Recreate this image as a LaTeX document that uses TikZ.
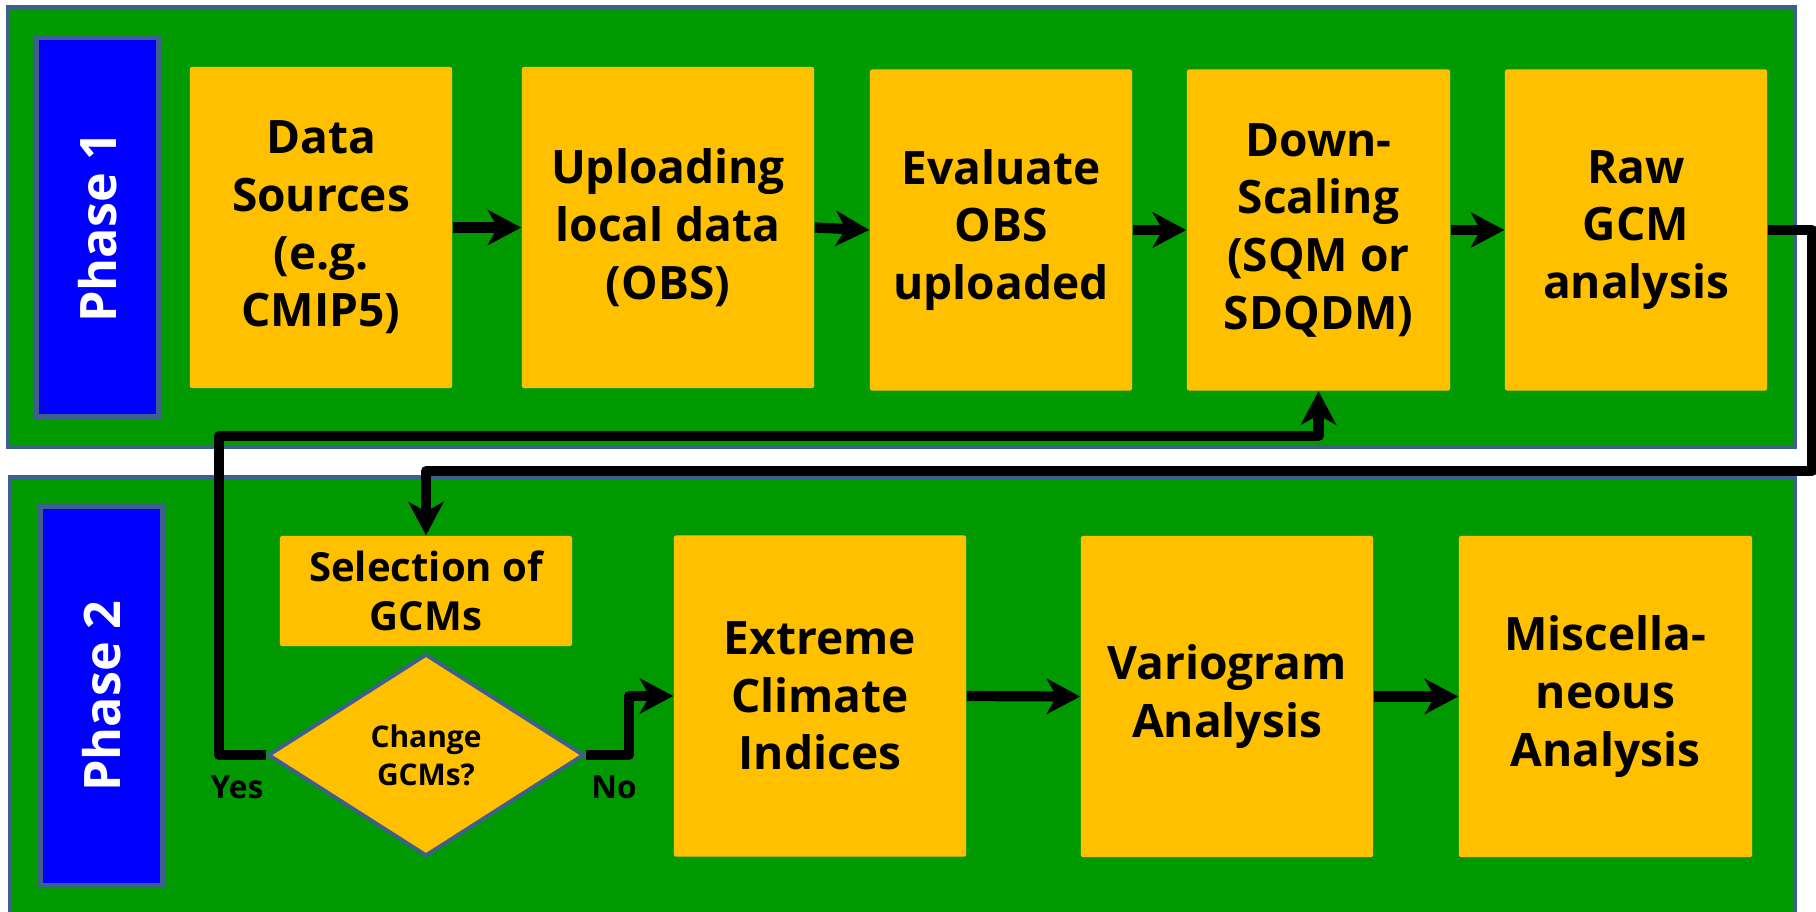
\documentclass[tikz,border=0pt]{standalone}
\usepackage{fontspec}
\setmainfont{Open Sans}
\usetikzlibrary{arrows.meta,shapes.geometric}
\definecolor{panelgreen}{RGB}{0,153,0}
\definecolor{edgeblue}{RGB}{60,95,140}
\definecolor{phaseblue}{RGB}{0,0,255}
\definecolor{boxgold}{RGB}{255,192,0}
\begin{document}
\begin{tikzpicture}[x=0.01cm,y=-0.01cm,
    panel/.style={fill=panelgreen,draw=edgeblue,line width=1.1pt},
    phasebox/.style={fill=phaseblue,draw=edgeblue,line width=1.3pt,rotate=90,
        minimum width=3.79cm,minimum height=1.22cm,inner sep=0pt,
        text=white,font=\bfseries\fontsize{14.3}{16}\selectfont},
    box/.style={fill=boxgold,rounded corners=0.6pt,inner sep=0pt,align=center,
        minimum height=3.21cm,font=\bfseries\fontsize{13.1}{16.4}\selectfont},
    flow/.style={line width=2.9pt,line join=round,-{Stealth[length=9.5pt,width=10pt,inset=2.8pt]}},
    tag/.style={font=\bfseries\fontsize{9}{11}\selectfont}
  ]
    \useasboundingbox (0,0) rectangle (1816,911);

    %%phase 1
    \draw[panel] (8,7) rectangle (1795,447);
    \node[phasebox] (phaseone) at (97.5,227){Phase 1};
    \node[box,minimum width=2.62cm] (data) at (321,227.5){Data\\Sources\\(e.g.\\CMIP5)};
    \node[box,minimum width=2.92cm] (upload) at (668,227.5){Uploading\\local data\\(OBS)};
    \node[box,minimum width=2.62cm] (evaluate) at (1001,230){Evaluate\\OBS\\uploaded};
    \node[box,minimum width=2.63cm] (downscale) at (1318.5,230){Down-\\Scaling\\(SQM or\\SDQDM)};
    \node[box,minimum width=2.62cm] (rawgcm) at (1636,230){Raw\\GCM\\analysis};

    %%phase 2
    \draw[panel] (10,477) rectangle (1795,920);
    \node[phasebox] (phasetwo) at (101.5,696){Phase 2};
    \node[box,minimum width=2.92cm,minimum height=1.10cm,
        font=\bfseries\fontsize{11.4}{13.8}\selectfont] (select) at (426,591){Selection of\\GCMs};
    \node[diamond,aspect=1.56,fill=boxgold,draw=edgeblue,line width=1.1pt,
        minimum width=3.16cm,minimum height=2.02cm,inner sep=0pt,align=center,
        font=\bfseries\fontsize{8.5}{10.9}\selectfont] (change) at (426,755){Change\\GCMs?};
    \node[box,minimum width=2.92cm] (extreme) at (820,696){Extreme\\Climate\\Indices};
    \node[box,minimum width=2.92cm] (variogram) at (1227,696.5){Variogram\\Analysis};
    \node[box,minimum width=2.93cm] (misc) at (1605.5,696.5){Miscella-\\neous\\Analysis};

    %%labels
    \node[tag] (yes) at (237,787){Yes};
    \node[tag] (no) at (614,787){No};

    %%bends
    \coordinate (rbend) at (1812,471);
    \coordinate (ybend) at (219,436);
    \coordinate (nbend) at (629,696);

    %%arrows
    \draw[flow] (data.east) -- (upload.west);
    \draw[flow] (upload.east) -- (evaluate.west);
    \draw[flow] (evaluate.east) -- (downscale.west);
    \draw[flow] (downscale.east) -- (rawgcm.west);
    \draw[flow] (rawgcm.east) -| (rbend) -| (select.north);
    \draw[flow] (change.west) -| (ybend) -| (downscale.south);
    \draw[flow] (change.east) -| (nbend) -- (extreme.west);
    \draw[flow] (extreme.east) -- (variogram.west);
    \draw[flow] (variogram.east) -- (misc.west);
\end{tikzpicture}
\end{document}
